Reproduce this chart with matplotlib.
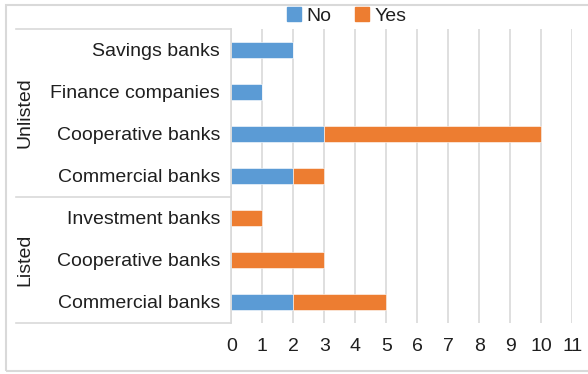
import matplotlib.pyplot as plt
from matplotlib.patches import Patch, Rectangle
from matplotlib.lines import Line2D
from matplotlib.transforms import blended_transform_factory

plt.rcParams['font.family'] = ['Liberation Sans', 'DejaVu Sans']

categories = ['Savings banks', 'Finance companies', 'Cooperative banks', 'Commercial banks',
              'Investment banks', 'Cooperative banks', 'Commercial banks']
groups = ['Unlisted', 'Listed']
group_sizes = [4, 3]
no_values = [2, 1, 3, 2, 0, 0, 2]
yes_values = [0, 0, 7, 1, 1, 3, 3]
x_ticks = list(range(0, 12))

blue = '#5B9BD5'
orange = '#ED7D31'
grid_col = '#D9D9D9'
text_col = '#1F1F1F'
fs = 14

W, H = 588, 374
fig = plt.figure(figsize=(W / 100, H / 100), dpi=100)

# plot area in pixel coords
x0, x1 = 231.3, 572.3
y_top, y_bot = 29, 323
ax = fig.add_axes([x0 / W, 1 - y_bot / H, (x1 - x0) / W, (y_bot - y_top) / H])

ypos = list(range(len(categories)))
ax.barh(ypos, no_values, height=0.4, color=blue, edgecolor='white', linewidth=0.4, label='No', zorder=3)
ax.barh(ypos, yes_values, left=no_values, height=0.4, color=orange, edgecolor='white', linewidth=0.4,
        label='Yes', zorder=3)

ax.set_xlim(0, 11)
ax.set_ylim(len(categories) - 0.5, -0.5)
ax.set_xticks(x_ticks)
ax.set_yticks(ypos)
ax.set_yticklabels(categories)
ax.tick_params(axis='x', length=0, pad=11, labelsize=fs, labelcolor=text_col)
ax.tick_params(axis='y', length=0, pad=8, labelsize=fs, labelcolor=text_col)
ax.grid(axis='x', color=grid_col, linewidth=1.2, zorder=0)
for s in ['top', 'right', 'bottom']:
    ax.spines[s].set_visible(False)
ax.spines['left'].set_color(grid_col)
ax.spines['left'].set_linewidth(1.2)
ax.spines['left'].set_zorder(4)

# group separators and group labels
trans = blended_transform_factory(ax.transAxes, ax.transData)
left_x = (16 - x0) / (x1 - x0)
bounds = [-0.5]
for n in group_sizes:
    bounds.append(bounds[-1] + n)
for b in bounds:
    ax.add_line(Line2D([left_x, 0], [b, b], transform=trans, color=grid_col,
                       linewidth=1.2, clip_on=False))
label_x = (25 - x0) / (x1 - x0)
for g, lo, hi in zip(groups, bounds[:-1], bounds[1:]):
    ax.text(label_x, (lo + hi) / 2, g, transform=trans, rotation=90, ha='center', va='center',
            fontsize=fs, color=text_col)

# outer chart border
fig.patches.append(Rectangle((5.5 / W, 1 - 371 / H), 1.2, (371 - 5) / H, transform=fig.transFigure,
                             fill=False, edgecolor=grid_col, linewidth=1.5))

handles = [Patch(color=blue, label='No'), Patch(color=orange, label='Yes')]
fig.legend(handles=handles, loc='center', bbox_to_anchor=(347 / W, 1 - 16 / H), ncol=2, frameon=False,
           fontsize=fs, handlelength=0.7, handleheight=0.7, handletextpad=0.3, columnspacing=1.2,
           labelcolor=text_col, borderpad=0)

fig.savefig('out.png', dpi=100)
